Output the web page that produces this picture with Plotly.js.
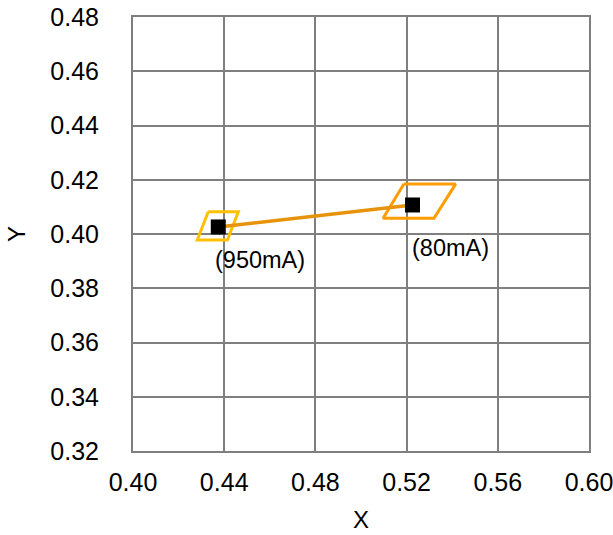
<!DOCTYPE html>
<html>
<head>
<meta charset="utf-8">
<script src="https://cdn.plot.ly/plotly-3.0.1.min.js"></script>
<style>html,body{margin:0;padding:0;background:#fff;}#chart{width:613px;height:535px;}</style>
</head>
<body>
<div id="chart"></div>
<script>
// Measured points (CIE x, y)
var pointLabels = ["(950mA)", "(80mA)"];
var pointX = [0.4374, 0.5226];
var pointY = [0.4026, 0.4107];

// Tolerance quadrilaterals (closed)
var box1X = [0.4330, 0.4462, 0.4414, 0.4282, 0.4330];
var box1Y = [0.4082, 0.4082, 0.3978, 0.3978, 0.4082];
var box2X = [0.5188, 0.5415, 0.5320, 0.5097, 0.5188];
var box2Y = [0.4184, 0.4184, 0.4058, 0.4058, 0.4184];

var FONT = "Liberation Sans, Arial, sans-serif";

var traces = [
  {x: box1X, y: box1Y, type: "scatter", mode: "lines",
   line: {color: "#FFC000", width: 3}, hoverinfo: "skip", showlegend: false},
  {x: box2X, y: box2Y, type: "scatter", mode: "lines",
   line: {color: "#FF9C00", width: 3}, hoverinfo: "skip", showlegend: false},
  {x: pointX, y: pointY, type: "scatter", mode: "lines",
   line: {color: "#E8930C", width: 3.5}, hoverinfo: "skip", showlegend: false},
  {x: pointX, y: pointY, type: "scatter", mode: "markers",
   marker: {symbol: "square", size: 15, color: "#000000"}, showlegend: false}
];

var layout = {
  width: 613, height: 535,
  margin: {l: 133, r: 24, t: 17, b: 84},
  paper_bgcolor: "#ffffff", plot_bgcolor: "#ffffff",
  font: {family: FONT, size: 24, color: "#000"},
  showlegend: false,
  xaxis: {
    range: [0.40, 0.60], dtick: 0.04, tick0: 0.40, tickformat: ".2f",
    showgrid: true, gridcolor: "#7f7f7f", gridwidth: 2,
    showline: true, linecolor: "#7f7f7f", linewidth: 2, mirror: true,
    zeroline: false, ticks: "", ticklabelstandoff: 8,
    ticklabeloverflow: "allow",
    tickfont: {family: FONT, size: 25},
    title: {text: "X", font: {family: FONT, size: 24}, standoff: 16}
  },
  yaxis: {
    range: [0.32, 0.48], dtick: 0.02, tick0: 0.32, tickformat: ".2f",
    showgrid: true, gridcolor: "#7f7f7f", gridwidth: 2,
    showline: true, linecolor: "#7f7f7f", linewidth: 2, mirror: true,
    zeroline: false, ticks: "", ticklabelstandoff: 27,
    ticklabeloverflow: "allow",
    tickfont: {family: FONT, size: 25},
    title: {text: "Y", font: {family: FONT, size: 24}, standoff: 18}
  },
  annotations: [
    {x: pointX[0], y: pointY[0], text: pointLabels[0], xref: "x", yref: "y",
     showarrow: false, xanchor: "left", yanchor: "middle", xshift: -5, yshift: -33,
     font: {family: FONT, size: 23.5, color: "#000"}},
    {x: pointX[1], y: pointY[1], text: pointLabels[1], xref: "x", yref: "y",
     showarrow: false, xanchor: "left", yanchor: "middle", xshift: -3, yshift: -43,
     font: {family: FONT, size: 23.5, color: "#000"}}
  ]
};

Plotly.newPlot("chart", traces, layout, {displayModeBar: false, staticPlot: true});
</script>
</body>
</html>
